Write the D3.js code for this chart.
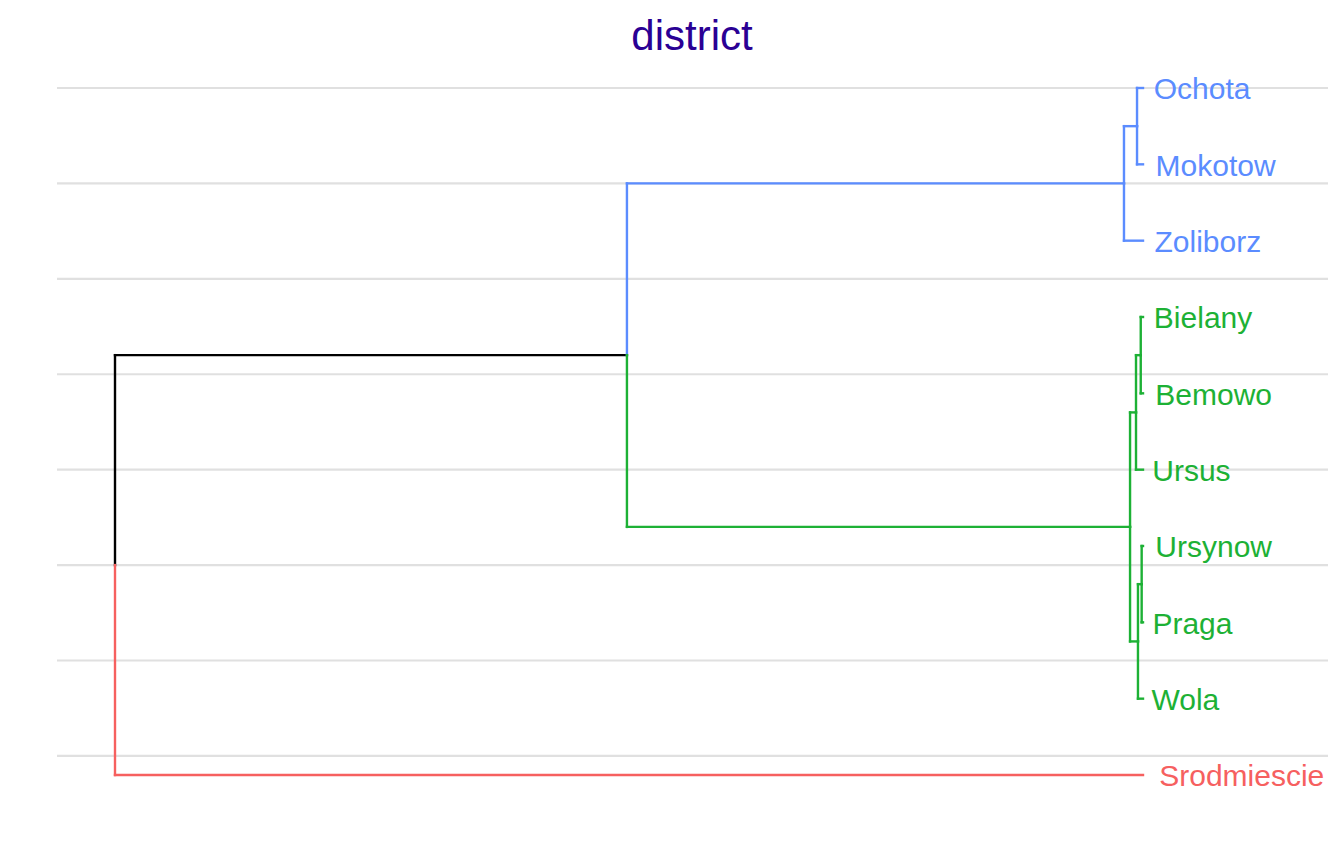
<!DOCTYPE html>
<html><head><meta charset="utf-8">
<script src="https://cdn.jsdelivr.net/npm/d3@7"></script>
<style>body{margin:0;background:#fff;}svg{display:block;}</style>
</head><body>
<script>
// Leaves, top to bottom
const leafNames = ["Ochota","Mokotow","Zoliborz","Bielany","Bemowo","Ursus","Ursynow","Praga","Wola","Srodmiescie"];
// Cluster of each leaf (k = 3)
const leafCluster = [0,0,0,1,1,1,1,1,1,2];
const clusterColors = ["#5B8CFF","#1DB135","#F6605F"];
// Merges: [left, right, height]; negative = leaf index (1-based), positive = earlier merge (1-based)
const merges = [
  [-7, -8, 0.13],   // Ursynow + Praga
  [-4, -5, 0.22],   // Bielany + Bemowo
  [1, -9, 0.49],    // + Wola
  [-1, -2, 0.58],   // Ochota + Mokotow
  [2, -6, 0.68],    // + Ursus
  [3, 5, 1.26],     // green cluster
  [4, -3, 1.85],    // blue cluster
  [7, 6, 50.2],     // blue + green
  [8, -10, 100]     // root
];
const gridBreaks = [1.25,2.5,3.75,5,6.25,7.5,8.75,10];
const titleText = "district";

const W = 1344, H = 865;
const svg = d3.select("body").append("svg").attr("width", W).attr("height", H);

const n = leafNames.length;
const y = d3.scaleLinear().domain([1, 10]).range([775, 88]);
const x = d3.scaleLinear().domain([0, 100]).range([1143, 115]);

// grid
svg.append("g").selectAll("line").data(gridBreaks).join("line")
  .attr("x1", 57).attr("x2", 1328)
  .attr("y1", d => y(d)).attr("y2", d => y(d))
  .attr("stroke", "#e0e0e0").attr("stroke-width", 2.2);

function leafNode(i) { return {leaf: i, pos: n - i, h: 0, clusters: new Set([leafCluster[i]])}; }
const nodes = [];
merges.forEach(([a, b, h]) => {
  const ca = a < 0 ? leafNode(-a - 1) : nodes[a - 1];
  const cb = b < 0 ? leafNode(-b - 1) : nodes[b - 1];
  nodes.push({children: [ca, cb], h, pos: (ca.pos + cb.pos) / 2,
    clusters: new Set([...ca.clusters, ...cb.clusters])});
});
const root = nodes[nodes.length - 1];

const segs = [];
(function walk(node) {
  if (!node.children) return;
  node.children.forEach(c => {
    const col = c.clusters.size === 1 ? clusterColors[[...c.clusters][0]] : "#000000";
    segs.push({x1: x(node.h), y1: y(node.pos), x2: x(node.h), y2: y(c.pos), col});
    segs.push({x1: x(node.h), y1: y(c.pos), x2: x(c.h), y2: y(c.pos), col});
    walk(c);
  });
})(root);

svg.append("g").selectAll("line").data(segs).join("line")
  .attr("x1", d => d.x1).attr("y1", d => d.y1)
  .attr("x2", d => d.x2).attr("y2", d => d.y2)
  .attr("stroke", d => d.col).attr("stroke-width", 2.4)
  .attr("stroke-linecap", "square");

const lab = svg.append("g").selectAll("text").data(leafNames).join("text")
  .attr("y", (d, i) => y(n - i))
  .attr("dy", "0.38em")
  .attr("font-family", "Liberation Sans, Arial, sans-serif")
  .attr("font-size", 30)
  .attr("fill", (d, i) => clusterColors[leafCluster[i]])
  .text(d => d);
lab.attr("x", function() { return 1146 + 0.08 * this.getComputedTextLength(); });

svg.append("text")
  .attr("x", 692).attr("y", 50)
  .attr("text-anchor", "middle")
  .attr("font-family", "Liberation Sans, Arial, sans-serif")
  .attr("font-size", 42)
  .attr("fill", "#2A0094")
  .text(titleText);
</script>
</body></html>
